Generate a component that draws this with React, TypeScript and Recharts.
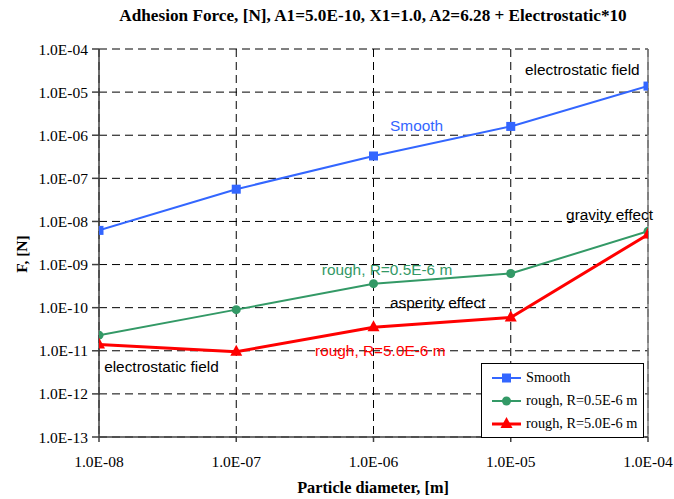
import React from "react";
import {
  CartesianGrid,
  Legend,
  Line,
  LineChart,
  ReferenceDot,
  ReferenceLine,
  XAxis,
  YAxis,
} from "recharts";

const particleDiameter = [1e-8, 1e-7, 1e-6, 1e-5, 1e-4];
const smoothForce = [6.2e-9, 5.6e-8, 3.3e-7, 1.6e-6, 1.38e-5];
const roughSmallForce = [2.3e-11, 9.0e-11, 3.6e-10, 6.2e-10, 5.9e-9];
const roughLargeForce = [1.4e-11, 9.5e-12, 3.5e-11, 5.9e-11, 5.0e-9];

const xTicks = [1e-8, 1e-7, 1e-6, 1e-5, 1e-4];
const yTicks = [1e-13, 1e-12, 1e-11, 1e-10, 1e-9, 1e-8, 1e-7, 1e-6, 1e-5, 1e-4];

const seriesNames = ["Smooth", "rough, R=0.5E-6 m", "rough, R=5.0E-6 m"];

const notes = [
  { text: "electrostatic field", x: 1.27e-5, y: 3.26e-5, color: "#000" },
  { text: "Smooth", x: 1.32e-6, y: 1.64e-6, color: "#3366FF" },
  { text: "gravity effect", x: 2.53e-5, y: 1.41e-8, color: "#000" },
  { text: "rough, R=0.5E-6 m", x: 4.2e-7, y: 7.5e-10, color: "#339966" },
  { text: "asperity effect", x: 1.32e-6, y: 1.28e-10, color: "#000" },
  { text: "rough, R=5.0E-6 m", x: 3.75e-7, y: 9.9e-12, color: "#FF0000" },
  { text: "electrostatic field", x: 1.09e-8, y: 4.2e-12, color: "#000" },
];

const data = particleDiameter.map((d, i) => ({
  d,
  smooth: smoothForce[i],
  roughSmall: roughSmallForce[i],
  roughLarge: roughLargeForce[i],
}));

const BLUE = "#3366FF";
const GREEN = "#339966";
const RED = "#FF0000";

const serif = "'Liberation Serif', 'Times New Roman', serif";
const sans = "'Liberation Sans', Arial, sans-serif";

function fmt(v: number) {
  const e = Math.round(Math.log10(v));
  return "1.0E" + (e < 0 ? "-" : "+") + String(Math.abs(e)).padStart(2, "0");
}

function Square(p: any) {
  if (p.cx == null) return null;
  return <rect key={p.index} x={p.cx - 4.5} y={p.cy - 4.5} width={9} height={9} fill={BLUE} />;
}

function Circle(p: any) {
  if (p.cx == null) return null;
  return <circle key={p.index} cx={p.cx} cy={p.cy} r={4.5} fill={GREEN} />;
}

function Triangle(p: any) {
  if (p.cx == null) return null;
  const { cx, cy } = p;
  return (
    <polygon
      key={p.index}
      points={`${cx},${cy - 7} ${cx - 6},${cy + 4} ${cx + 6},${cy + 4}`}
      fill={RED}
    />
  );
}

function LegendBox() {
  const rows = [
    { name: seriesNames[0], color: BLUE, w: 2, mark: <rect x={10} y={-4.5} width={9} height={9} fill={BLUE} /> },
    { name: seriesNames[1], color: GREEN, w: 2, mark: <circle cx={14.5} cy={0} r={4.5} fill={GREEN} /> },
    { name: seriesNames[2], color: RED, w: 3, mark: <polygon points="14.5,-7 8.5,4 20.5,4" fill={RED} /> },
  ];
  return (
    <div
      style={{
        border: "1px solid #000",
        background: "#fff",
        width: 161,
        height: 71,
        boxSizing: "content-box",
        paddingTop: 2,
      }}
    >
      {rows.map((r) => (
        <div key={r.name} style={{ display: "flex", alignItems: "center", height: 23 }}>
          <svg width={40} height={20} style={{ marginLeft: 8 }}>
            <g transform="translate(2,10)">
              <line x1={0} y1={0} x2={29} y2={0} stroke={r.color} strokeWidth={r.w} />
              {r.mark}
            </g>
          </svg>
          <span style={{ fontFamily: serif, fontSize: 14.3, color: "#000", marginLeft: -4 }}>{r.name}</span>
        </div>
      ))}
    </div>
  );
}

export default function App() {
  return (
    <div style={{ position: "absolute", left: 0, top: 0, width: 674, height: 499, background: "#fff" }}>
      <div
        style={{
          position: "absolute",
          left: 0,
          top: 6,
          width: 746,
          textAlign: "center",
          fontFamily: serif,
          fontWeight: "bold",
          fontSize: 17.2,
          whiteSpace: "nowrap",
        }}
      >
        Adhesion Force, [N], A1=5.0E-10, X1=1.0, A2=6.28 + Electrostatic*10
      </div>
      <div
        style={{
          position: "absolute",
          left: 0,
          top: 478,
          width: 746,
          textAlign: "center",
          fontFamily: serif,
          fontWeight: "bold",
          fontSize: 16.3,
        }}
      >
        Particle diameter, [m]
      </div>
      <div
        style={{
          position: "absolute",
          left: 22,
          top: 254,
          transform: "translate(-50%, -50%) rotate(-90deg)",
          fontFamily: serif,
          fontWeight: "bold",
          fontSize: 15.5,
          whiteSpace: "nowrap",
        }}
      >
        F, [N]
      </div>
      <LineChart
        width={674}
        height={499}
        data={data}
        margin={{ top: 49, right: 26, bottom: 0, left: 0 }}
        style={{ position: "absolute", left: 0, top: 0 }}
      >
        <CartesianGrid stroke="#000" strokeDasharray="8 5" strokeWidth={1} />
        <XAxis
          dataKey="d"
          type="number"
          scale="log"
          domain={[1e-8, 1e-4]}
          ticks={xTicks}
          tickFormatter={fmt}
          allowDataOverflow
          height={62}
          stroke="#404040"
          strokeWidth={1.5}
          tickSize={5}
          tickMargin={14}
          tick={{ fill: "#000", fontFamily: serif, fontSize: 15.5 }}
        />
        <YAxis
          type="number"
          scale="log"
          domain={[1e-13, 1e-4]}
          ticks={yTicks}
          tickFormatter={fmt}
          allowDataOverflow
          width={99}
          stroke="#404040"
          strokeWidth={1.5}
          tickSize={7}
          tickMargin={4}
          tick={{ fill: "#000", fontFamily: serif, fontSize: 15.5 }}
        />
        <ReferenceLine x={1e-4} stroke="#808080" strokeWidth={1.5} />
        {notes.map((n, i) => (
          <ReferenceDot
            key={i}
            x={n.x}
            y={n.y}
            r={0}
            ifOverflow="visible"
            shape={(p: any) => (
              <text
                x={p.cx}
                y={p.cy}
                dy="0.35em"
                textAnchor="start"
                fill={n.color}
                fontFamily={sans}
                fontSize={15.4}
              >
                {n.text}
              </text>
            )}
          />
        ))}
        <Line
          dataKey="smooth"
          name={seriesNames[0]}
          stroke={BLUE}
          strokeWidth={2}
          dot={Square}
          activeDot={false}
          isAnimationActive={false}
        />
        <Line
          dataKey="roughSmall"
          name={seriesNames[1]}
          stroke={GREEN}
          strokeWidth={2}
          dot={Circle}
          activeDot={false}
          isAnimationActive={false}
        />
        <Line
          dataKey="roughLarge"
          name={seriesNames[2]}
          stroke={RED}
          strokeWidth={3}
          dot={Triangle}
          activeDot={false}
          isAnimationActive={false}
        />
        <Legend
          layout="vertical"
          align="center"
          verticalAlign="middle"
          wrapperStyle={{ position: "absolute", left: 481, top: 363, width: "auto", height: "auto" }}
          content={() => <LegendBox />}
        />
      </LineChart>
    </div>
  );
}
